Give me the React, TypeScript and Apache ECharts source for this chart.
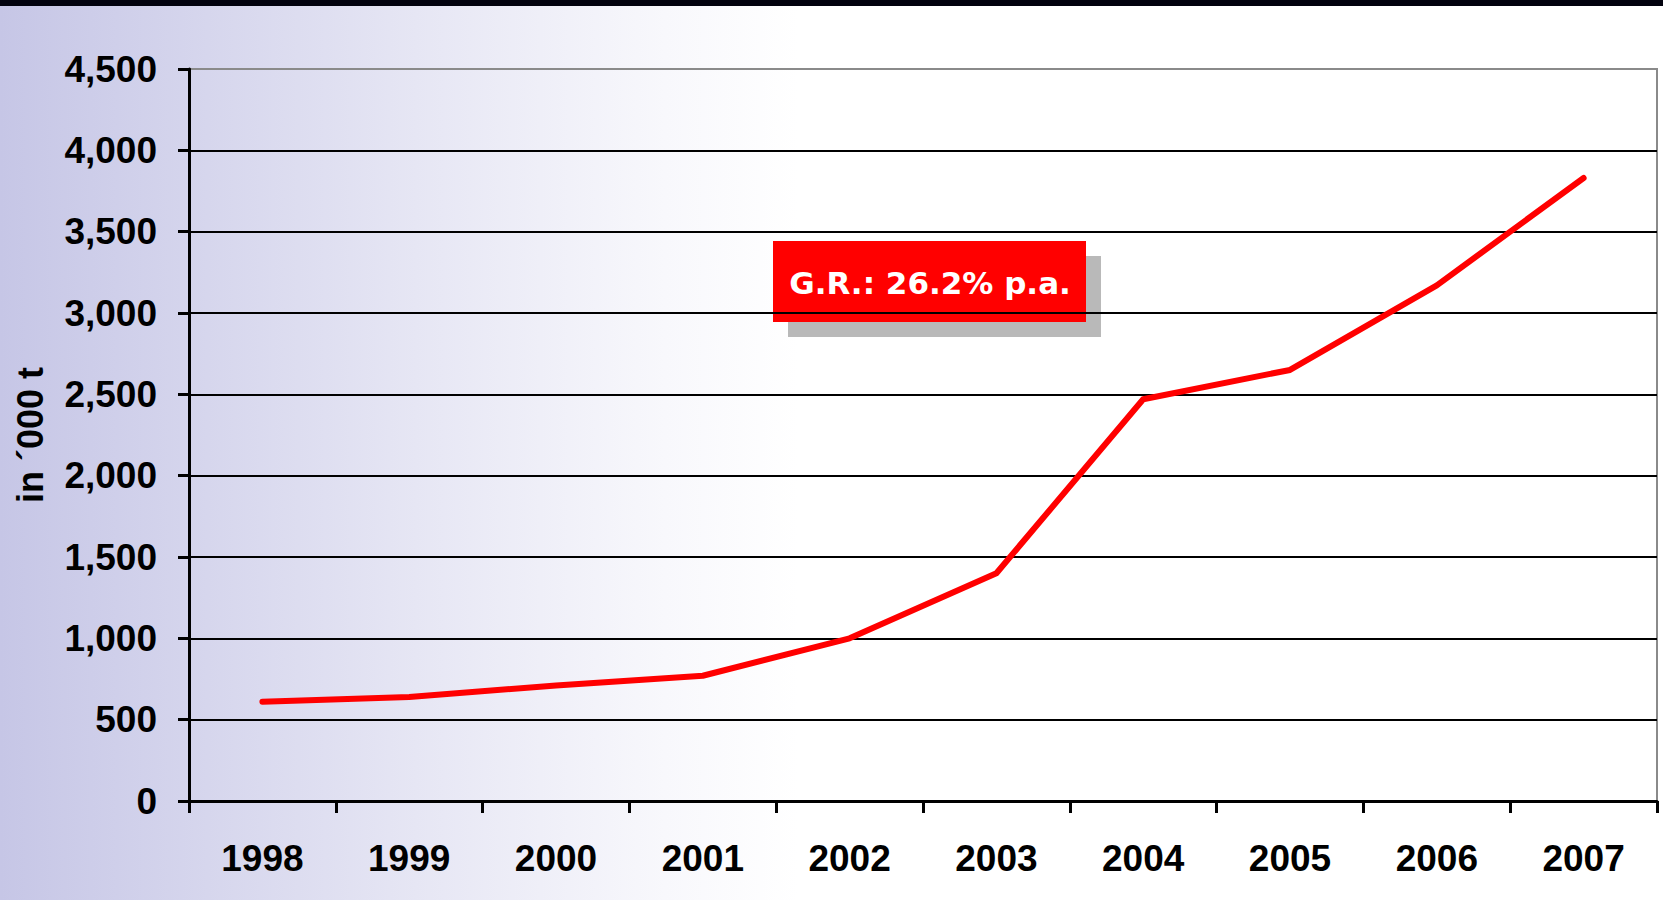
import React, { useEffect, useRef } from "react";
import * as echarts from "echarts";

// Annual volume, thousand tonnes
const years = ["1998", "1999", "2000", "2001", "2002", "2003", "2004", "2005", "2006", "2007"];
const volumes = [610, 640, 710, 770, 1000, 1400, 2470, 2650, 3170, 3830];
const yTicks = { min: 0, max: 4500, interval: 500 };
const yAxisTitle = "in ´000 t";
const growthNote = "G.R.: 26.2% p.a.";

const FONT = "'Liberation Sans', Arial, sans-serif";
const NOTE_FONT = "'DejaVu Sans', 'Liberation Sans', sans-serif";

export default function App() {
  const ref = useRef<HTMLDivElement>(null);

  useEffect(() => {
    if (!ref.current) return;
    const chart = echarts.init(ref.current, null, { renderer: "svg" });
    chart.setOption({
      animation: false,
      backgroundColor: "transparent",
      grid: {
        left: 189,
        right: 6,
        top: 69,
        bottom: 99,
        show: true,
        borderColor: "#8a8a8a",
        borderWidth: 2,
        backgroundColor: "transparent",
      },
      xAxis: {
        type: "category",
        data: years,
        boundaryGap: true,
        axisLine: { lineStyle: { color: "#000", width: 3 } },
        axisTick: { show: true, length: 12, lineStyle: { color: "#000", width: 3 } },
        axisLabel: {
          color: "#000",
          fontFamily: FONT,
          fontWeight: "bold",
          fontSize: 37,
          margin: 39,
        },
        splitLine: { show: false },
      },
      yAxis: {
        type: "value",
        min: yTicks.min,
        max: yTicks.max,
        interval: yTicks.interval,
        name: yAxisTitle,
        nameLocation: "middle",
        nameRotate: 90,
        nameGap: 141,
        nameTextStyle: {
          color: "#000",
          fontFamily: FONT,
          fontWeight: "bold",
          fontSize: 36,
        },
        axisLine: { show: true, lineStyle: { color: "#000", width: 3 } },
        axisTick: { show: true, length: 11, lineStyle: { color: "#000", width: 3 } },
        axisLabel: {
          color: "#000",
          fontFamily: FONT,
          fontWeight: "bold",
          fontSize: 37,
          margin: 32,
          formatter: (v: number) => v.toLocaleString("en-US"),
        },
        splitLine: {
          show: true,
          showMaxLine: false,
          lineStyle: { color: "#000", width: 2 },
        },
      },
      series: [
        {
          type: "line",
          data: volumes,
          showSymbol: false,
          smooth: false,
          lineStyle: { color: "#ff0000", width: 6, cap: "round", join: "round" },
          z: 5,
        },
      ],
      graphic: [
        {
          type: "rect",
          left: 0,
          top: 0,
          shape: { width: 1663, height: 6 },
          style: { fill: "#02020e" },
          z: 10,
        },
        {
          type: "group",
          left: 773,
          top: 241,
          z: 20,
          children: [
            {
              type: "rect",
              x: 15,
              y: 15,
              shape: { width: 313, height: 81 },
              style: { fill: "#b9b9b9" },
            },
            {
              type: "rect",
              x: 0,
              y: 0,
              shape: { width: 313, height: 81 },
              style: { fill: "#ff0000" },
            },
            {
              type: "text",
              x: 157,
              y: 42,
              style: {
                text: growthNote,
                fill: "#fff",
                font: `bold 31px ${NOTE_FONT}`,
                align: "center",
                verticalAlign: "middle",
              },
            },
          ],
        },
      ],
    });
    return () => chart.dispose();
  }, []);

  return (
    <div
      style={{
        position: "fixed",
        left: 0,
        top: 0,
        width: 1663,
        height: 900,
        background: "linear-gradient(to right, #c6c6e6 0%, #e6e6f4 25%, #f8f8fc 40%, #ffffff 48%, #ffffff 100%)",
      }}
    >
      <div ref={ref} style={{ width: 1663, height: 900 }} />
    </div>
  );
}
